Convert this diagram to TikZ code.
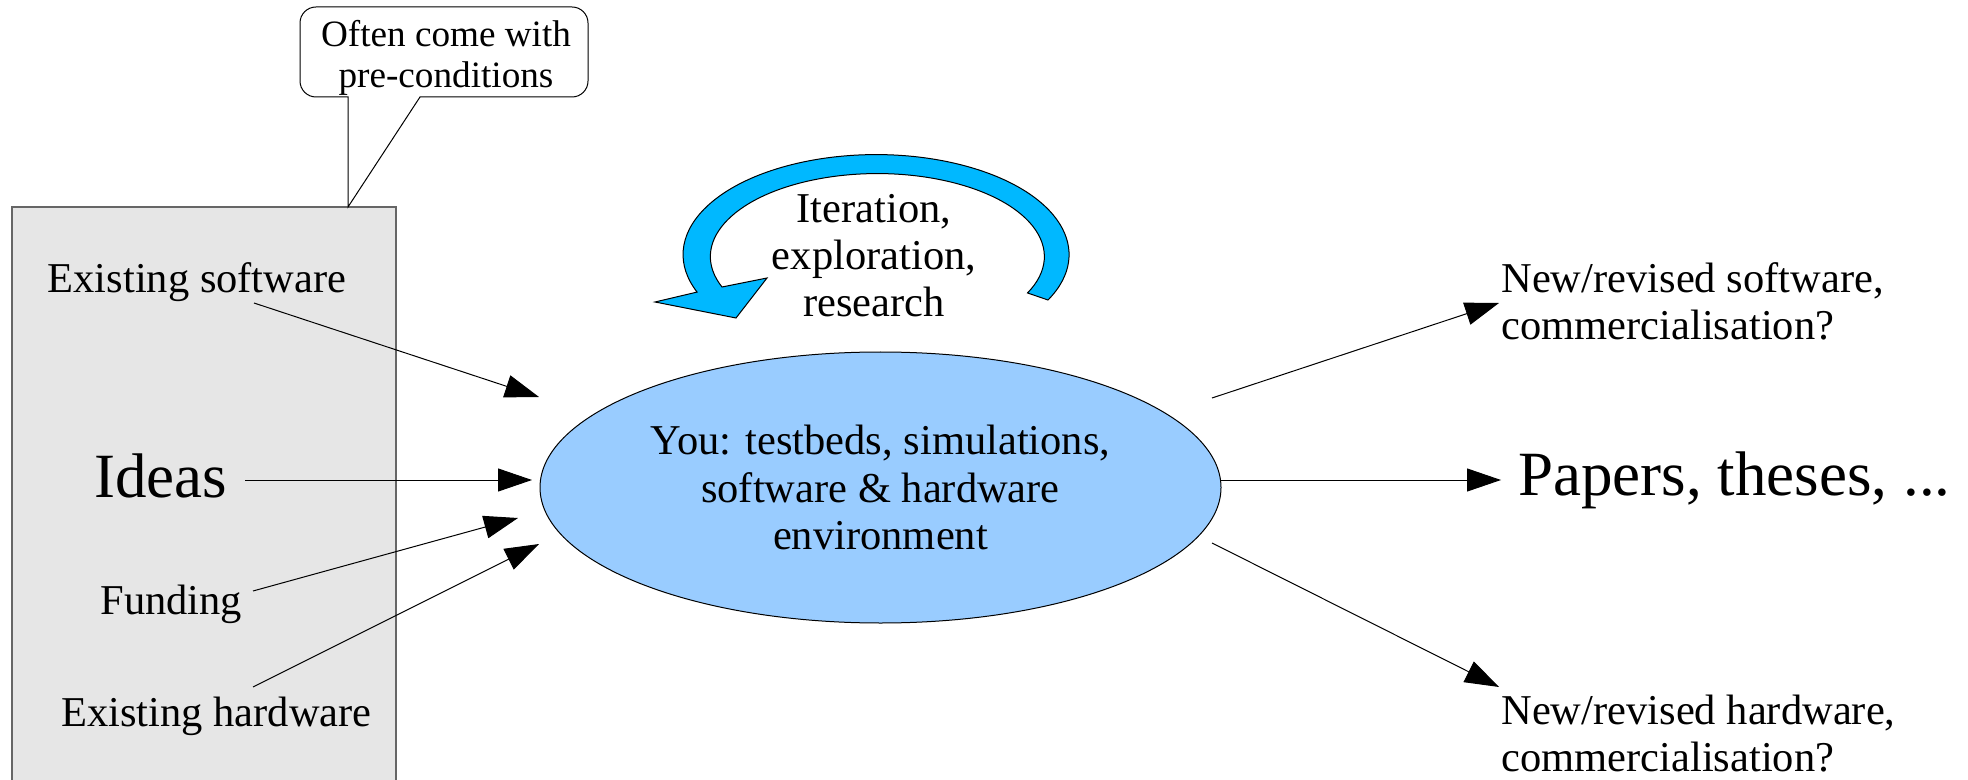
\documentclass[tikz,border=0pt]{standalone}
\usepackage{fontspec}
\setmainfont{Liberation Serif}
\usetikzlibrary{shapes.geometric,arrows.meta}
\definecolor{youblue}{RGB}{153,204,255}
\definecolor{loopblue}{RGB}{0,184,255}
\definecolor{boxgray}{RGB}{230,230,230}
\begin{document}
\begin{tikzpicture}[x=0.5pt,y=0.5pt,
  lbl/.style={inner sep=0pt,font=\fontsize{21.25pt}{23.5pt}\selectfont},
  smalllbl/.style={inner sep=0pt,font=\fontsize{18.6pt}{20.5pt}\selectfont},
  biglbl/.style={inner sep=0pt,font=\fontsize{31.5pt}{36pt}\selectfont},
  conn/.style={line width=0.5pt,-{Triangle[length=17pt,width=11.5pt]}},
  outline/.style={line width=0.5pt}
]
\useasboundingbox (0,0) rectangle (1968,-780);
% grey source box
\draw[black!60, fill=boxgray, line width=0.6pt] (12,-207) rectangle (396,-800);
% callout
\draw[outline, fill=white] (348,-97) -- (316,-97) arc[start angle=270,end angle=180,radius=16]
  -- (300,-23) arc[start angle=180,end angle=90,radius=16]
  -- (572,-7) arc[start angle=90,end angle=0,radius=16]
  -- (588,-81) arc[start angle=0,end angle=-90,radius=16]
  -- (420,-97) -- (348,-207) -- cycle;
\node[smalllbl, align=center, anchor=base] (pre) at (446,-88) {Often come with\\pre-conditions};
% loop arrow
\draw[outline, fill=loopblue] (1048,-300) arc[start angle=-27,end angle=202,x radius=193,y radius=100]
  -- (655,-302) -- (736,-318) -- (767,-278) -- (722,-287)
  arc[start angle=201.5,end angle=-26,x radius=167,y radius=83] -- cycle;
\node[lbl, align=center, anchor=base] (iter) at (874,-317) {Iteration,\\exploration,\\research};
% central ellipse
\node[ellipse, draw, fill=youblue, outline, inner sep=0pt, minimum width=340.5pt, minimum height=135.5pt,
  font=\fontsize{21.25pt}{23.75pt}\selectfont, align=center] (you) at (880.5,-487.5)
  {You: testbeds, simulations,\\software \& hardware\\environment};
% left labels
\node[lbl, anchor=base] (es) at (197,-293) {Existing software};
\node[biglbl, anchor=base west] (ideas) at (94,-497) {Ideas};
\node[lbl, anchor=base west] (fund) at (100,-614) {Funding};
\node[lbl, anchor=base west] (eh) at (61,-726) {Existing hardware};
% right labels
\node[biglbl, anchor=base west] (papers) at (1518,-495) {Papers, theses, ...};
\node[lbl, anchor=base west, align=left] (nrs) at (1501,-340) {New/revised software,\\commercialisation?};
\node[lbl, anchor=base west, align=left] (nrh) at (1501,-771) {New/revised hardware,\\commercialisation?};
% connector ends
\coordinate (esS) at (254,-303); \coordinate (esT) at (539,-397);
\coordinate (idS) at (245,-480); \coordinate (idT) at (532,-480);
\coordinate (fuS) at (253,-591); \coordinate (fuT) at (518,-518);
\coordinate (ehS) at (253,-687); \coordinate (ehT) at (539,-544);
\coordinate (o1S) at (1212,-398); \coordinate (o1T) at (1499,-303);
\coordinate (o2S) at (1220,-480); \coordinate (o2T) at (1501,-480);
\coordinate (o3S) at (1212,-543); \coordinate (o3T) at (1499,-687);
\draw[conn] (esS) -- (esT);
\draw[conn] (idS) -- (idT);
\draw[conn] (fuS) -- (fuT);
\draw[conn] (ehS) -- (ehT);
\draw[conn] (o1S) -- (o1T);
\draw[conn] (o2S) -- (o2T);
\draw[conn] (o3S) -- (o3T);
\end{tikzpicture}
\end{document}
